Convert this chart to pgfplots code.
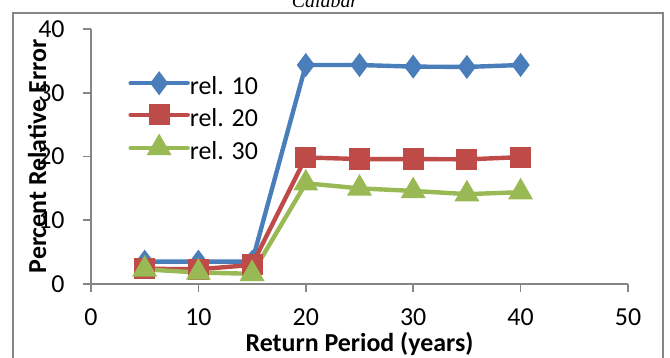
\documentclass[border=0pt]{standalone}
\usepackage{pgfplots}
\pgfplotsset{compat=1.18}
\usepackage{fontspec}
\setmainfont{Carlito}
\newfontfamily\titlefont{Liberation Serif}
\definecolor{c1}{HTML}{4A7EBB}
\definecolor{c2}{HTML}{BE4B48}
\definecolor{c3}{HTML}{98B954}
\definecolor{axgray}{HTML}{868686}
\begin{document}
\begin{tikzpicture}[x=1bp,y=1bp]
\useasboundingbox (0,0) rectangle (335,179);
\draw[axgray, line width=0.8bp] (6.5,-10) -- (6.5,172.5) -- (331.5,172.5) -- (331.5,-10);
\node[font=\titlefont\itshape\fontsize{10}{12}\selectfont, anchor=base] at (162.5,175.3) {Calabar};
\begin{axis}[
  at={(45.5bp,37bp)}, anchor=origin,
  scale only axis, width=268.5bp, height=127.5bp,
  xmin=0, xmax=50, ymin=0, ymax=40,
  xtick={0,10,20,30,40,50}, ytick={0,10,20,30,40},
  axis x line=bottom, axis y line=left,
  axis line style={-, axgray, line width=0.8bp},
  tick style={axgray, line width=0.8bp},
  tick align=outside, major tick length=4bp,
  minor tick num=0,
  /pgf/number format/assume math mode=true,
  ticklabel style={font=\fontsize{13}{15}\selectfont},
  xticklabel style={anchor=base, yshift=-16.5bp, inner sep=0pt},
  yticklabel style={anchor=east, inner sep=0pt, xshift=-9bp},
  xlabel={\textbf{Return Period (years)}},
  ylabel={\textbf{Percent Relative Error}},
  label style={font=\fontsize{13}{15}\selectfont},
  xlabel style={at={(axis description cs:0.5,0)}, anchor=base, yshift=-33.5bp, inner sep=0pt},
  ylabel style={at={(axis description cs:0,0.5)}, anchor=center, yshift=27bp, inner sep=0pt},
  clip=false,
  legend cell align=left,
  legend style={at={(axis description cs:0.069,0.822)}, anchor=north west, draw=none, fill=none, inner sep=0pt,
    font=\fontsize{13}{15}\selectfont,
    nodes={inner sep=0pt, text height=9bp, text depth=5.8bp},
    row sep=0pt, /tikz/every even column/.style={column sep=1bp}},
  legend image code/.code={\draw[mark repeat=2,mark phase=2,line cap=round,#1] plot coordinates {(0bp,4.2bp)(14.25bp,4.2bp)(28.5bp,4.2bp)};},
]
\addplot[c1, line width=2.2bp, mark=diamond*, mark size=4.2bp, mark options={solid}] coordinates {
(5,3.5) (10,3.5) (15,3.5) (20,34.35) (25,34.35) (30,34.1) (35,34.05) (40,34.35)};
\addlegendentry{rel. 10}
\addplot[c2, line width=2.2bp, mark=square*, mark size=4.2bp, mark options={solid}] coordinates {
(5,2.4) (10,2.3) (15,3.0) (20,19.85) (25,19.6) (30,19.6) (35,19.55) (40,19.9)};
\addlegendentry{rel. 20}
\addplot[c3, line width=2.2bp, mark=triangle*, mark size=5bp, mark options={solid}] coordinates {
(5,2.3) (10,1.8) (15,1.6) (20,15.8) (25,15.0) (30,14.6) (35,14.1) (40,14.4)};
\addlegendentry{rel. 30}
\end{axis}
\end{tikzpicture}
\end{document}
